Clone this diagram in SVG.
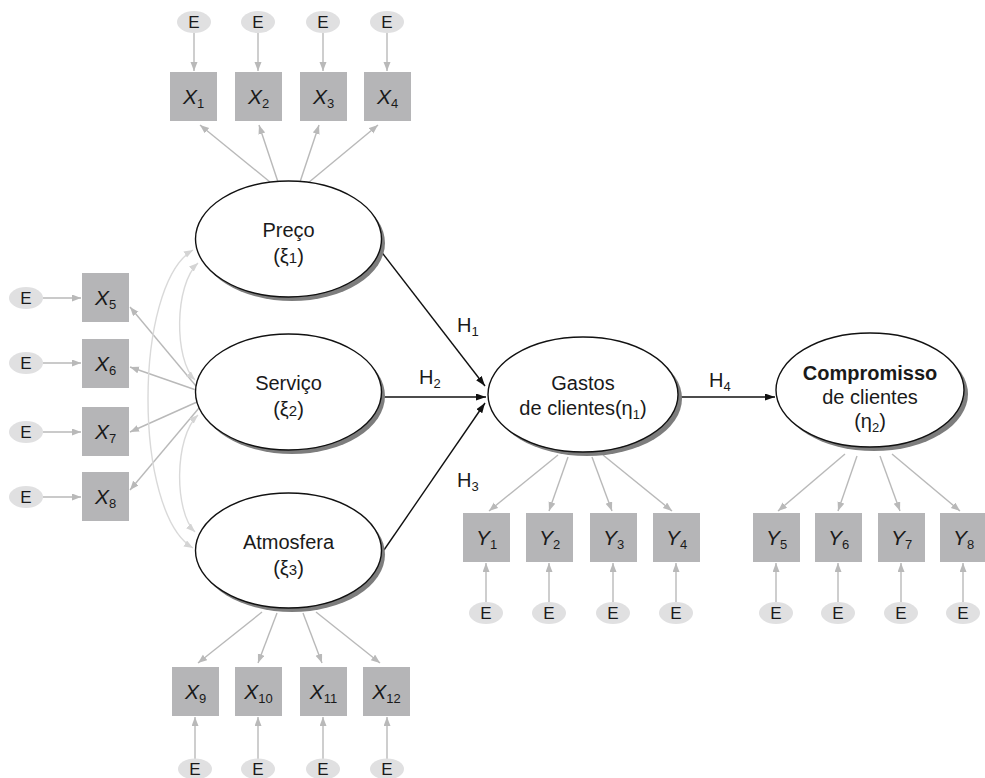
<svg xmlns="http://www.w3.org/2000/svg" width="985" height="778" viewBox="0 0 985 778">
<style>
text{font-family:"Liberation Sans",Arial,sans-serif;fill:#1a1a1a}
.box{fill:#b5b5b7}
.err{fill:#e0e0e1}
.et{font-size:17px;text-anchor:middle}
.xl{font-size:21px;text-anchor:middle}
.xl .v{font-style:italic}
.sub{font-size:13px}
.lat{fill:#fff;stroke:#111;stroke-width:1.4}
.sh{fill:#7d7d7d}
.lt{font-size:20px;text-anchor:middle}
.hl{font-size:20px}
.ld{stroke:#b9b9b9;stroke-width:1.4;fill:none;marker-end:url(#ga)}
.cv{stroke:#d9d9d9;stroke-width:1.4;fill:none;marker-end:url(#la);marker-start:url(#lb)}
.hp{stroke:#111;stroke-width:1.4;fill:none;marker-end:url(#ba)}
</style>
<defs>
<marker id="ga" markerUnits="userSpaceOnUse" markerWidth="10" markerHeight="8" refX="9" refY="3.5" orient="auto"><path d="M0,0 L9,3.5 L0,7 z" fill="#b9b9b9"/></marker>
<marker id="la" markerUnits="userSpaceOnUse" markerWidth="10" markerHeight="8" refX="9" refY="3.5" orient="auto"><path d="M0,0 L9,3.5 L0,7 z" fill="#d4d4d4"/></marker>
<marker id="lb" markerUnits="userSpaceOnUse" markerWidth="10" markerHeight="8" refX="9" refY="3.5" orient="auto-start-reverse"><path d="M0,0 L9,3.5 L0,7 z" fill="#d4d4d4"/></marker>
<marker id="ba" markerUnits="userSpaceOnUse" markerWidth="11" markerHeight="8" refX="10" refY="3.5" orient="auto"><path d="M0,0 L10,3.5 L0,7 z" fill="#111"/></marker>
</defs>

<g id="connectors">
<line class="ld" x1="194" y1="33" x2="194" y2="71"/>
<line class="ld" x1="258" y1="33" x2="258" y2="71"/>
<line class="ld" x1="323" y1="33" x2="323" y2="71"/>
<line class="ld" x1="387" y1="33" x2="387" y2="71"/>
<line class="ld" x1="43" y1="298" x2="81" y2="298"/>
<line class="ld" x1="43" y1="363" x2="81" y2="363"/>
<line class="ld" x1="43" y1="432" x2="81" y2="432"/>
<line class="ld" x1="43" y1="497" x2="81" y2="497"/>
<line class="ld" x1="195" y1="759" x2="195" y2="717"/>
<line class="ld" x1="258" y1="759" x2="258" y2="717"/>
<line class="ld" x1="323" y1="759" x2="323" y2="717"/>
<line class="ld" x1="387" y1="759" x2="387" y2="717"/>
<line class="ld" x1="486" y1="602" x2="486" y2="563"/>
<line class="ld" x1="549" y1="602" x2="549" y2="563"/>
<line class="ld" x1="613" y1="602" x2="613" y2="563"/>
<line class="ld" x1="676" y1="602" x2="676" y2="563"/>
<line class="ld" x1="776" y1="602" x2="776" y2="563"/>
<line class="ld" x1="838" y1="602" x2="838" y2="563"/>
<line class="ld" x1="901" y1="602" x2="901" y2="563"/>
<line class="ld" x1="963" y1="602" x2="963" y2="563"/>
<line class="ld" x1="270" y1="182" x2="200" y2="125"/>
<line class="ld" x1="278" y1="182" x2="259" y2="125"/>
<line class="ld" x1="300" y1="182" x2="319" y2="125"/>
<line class="ld" x1="308" y1="183" x2="378" y2="125"/>
<line class="ld" x1="196" y1="386" x2="130" y2="307"/>
<line class="ld" x1="196" y1="390" x2="130" y2="367"/>
<line class="ld" x1="197" y1="402" x2="130" y2="432"/>
<line class="ld" x1="199" y1="408" x2="130" y2="490"/>
<line class="ld" x1="262" y1="612" x2="198" y2="663"/>
<line class="ld" x1="277" y1="613" x2="258" y2="663"/>
<line class="ld" x1="303" y1="613" x2="322" y2="663"/>
<line class="ld" x1="316" y1="612" x2="380" y2="663"/>
<line class="ld" x1="558" y1="455" x2="489" y2="511"/>
<line class="ld" x1="568" y1="457" x2="549" y2="511"/>
<line class="ld" x1="592" y1="457" x2="612" y2="511"/>
<line class="ld" x1="603" y1="455" x2="672" y2="511"/>
<line class="ld" x1="845" y1="454" x2="778" y2="511"/>
<line class="ld" x1="857" y1="456" x2="838" y2="511"/>
<line class="ld" x1="880" y1="456" x2="900" y2="511"/>
<line class="ld" x1="892" y1="454" x2="960" y2="511"/>
<path class="cv" d="M193,250 C133,285 133,513 193,548"/>
<path class="cv" d="M198,263 C174,285 174,360 195,380"/>
<path class="cv" d="M198,415 C174,437 174,512 195,532"/>
<line class="hp" x1="380" y1="250" x2="485" y2="386"/>
<line class="hp" x1="383" y1="397" x2="486" y2="397"/>
<line class="hp" x1="384" y1="550" x2="485" y2="403"/>
<line class="hp" x1="680" y1="397" x2="775" y2="397"/>
<text class="hl" x="457" y="332">H<tspan class="sub" dy="4">1</tspan></text>
<text class="hl" x="419" y="384">H<tspan class="sub" dy="4">2</tspan></text>
<text class="hl" x="457" y="487">H<tspan class="sub" dy="4">3</tspan></text>
<text class="hl" x="709" y="387">H<tspan class="sub" dy="4">4</tspan></text>
</g>

<g id="e1"><ellipse class="err" cx="194" cy="22" rx="17" ry="11"/><text class="et" x="194" y="28">E</text></g>
<g id="e2"><ellipse class="err" cx="258" cy="22" rx="17" ry="11"/><text class="et" x="258" y="28">E</text></g>
<g id="e3"><ellipse class="err" cx="323" cy="22" rx="17" ry="11"/><text class="et" x="323" y="28">E</text></g>
<g id="e4"><ellipse class="err" cx="387" cy="22" rx="17" ry="11"/><text class="et" x="387" y="28">E</text></g>
<g id="x1"><rect class="box" x="170" y="72" width="47" height="49"/><text class="xl" x="193.5" y="104"><tspan class="v">X</tspan><tspan class="sub" dy="4">1</tspan></text></g>
<g id="x2"><rect class="box" x="235" y="72" width="47" height="49"/><text class="xl" x="258.5" y="104"><tspan class="v">X</tspan><tspan class="sub" dy="4">2</tspan></text></g>
<g id="x3"><rect class="box" x="300" y="72" width="47" height="49"/><text class="xl" x="323.5" y="104"><tspan class="v">X</tspan><tspan class="sub" dy="4">3</tspan></text></g>
<g id="x4"><rect class="box" x="364" y="72" width="47" height="49"/><text class="xl" x="387.5" y="104"><tspan class="v">X</tspan><tspan class="sub" dy="4">4</tspan></text></g>

<g id="e5"><ellipse class="err" cx="26" cy="298" rx="17" ry="11"/><text class="et" x="26" y="304">E</text></g>
<g id="e6"><ellipse class="err" cx="26" cy="363" rx="17" ry="11"/><text class="et" x="26" y="369">E</text></g>
<g id="e7"><ellipse class="err" cx="26" cy="432" rx="17" ry="11"/><text class="et" x="26" y="438">E</text></g>
<g id="e8"><ellipse class="err" cx="26" cy="497" rx="17" ry="11"/><text class="et" x="26" y="503">E</text></g>
<g id="x5"><rect class="box" x="82" y="273" width="47" height="49"/><text class="xl" x="105.5" y="305"><tspan class="v">X</tspan><tspan class="sub" dy="4">5</tspan></text></g>
<g id="x6"><rect class="box" x="82" y="339" width="47" height="49"/><text class="xl" x="105.5" y="371"><tspan class="v">X</tspan><tspan class="sub" dy="4">6</tspan></text></g>
<g id="x7"><rect class="box" x="82" y="407" width="47" height="49"/><text class="xl" x="105.5" y="439"><tspan class="v">X</tspan><tspan class="sub" dy="4">7</tspan></text></g>
<g id="x8"><rect class="box" x="82" y="472" width="47" height="49"/><text class="xl" x="105.5" y="504"><tspan class="v">X</tspan><tspan class="sub" dy="4">8</tspan></text></g>

<g id="x9"><rect class="box" x="172" y="667" width="47" height="49"/><text class="xl" x="195.5" y="699"><tspan class="v">X</tspan><tspan class="sub" dy="4">9</tspan></text></g>
<g id="x10"><rect class="box" x="235" y="667" width="47" height="49"/><text class="xl" x="258.5" y="699"><tspan class="v">X</tspan><tspan class="sub" dy="4">10</tspan></text></g>
<g id="x11"><rect class="box" x="300" y="667" width="47" height="49"/><text class="xl" x="323.5" y="699"><tspan class="v">X</tspan><tspan class="sub" dy="4">11</tspan></text></g>
<g id="x12"><rect class="box" x="363" y="667" width="47" height="49"/><text class="xl" x="386.5" y="699"><tspan class="v">X</tspan><tspan class="sub" dy="4">12</tspan></text></g>
<g id="e9"><ellipse class="err" cx="195" cy="769" rx="17" ry="10.5"/><text class="et" x="195" y="775">E</text></g>
<g id="e10"><ellipse class="err" cx="258" cy="769" rx="17" ry="10.5"/><text class="et" x="258" y="775">E</text></g>
<g id="e11"><ellipse class="err" cx="323" cy="769" rx="17" ry="10.5"/><text class="et" x="323" y="775">E</text></g>
<g id="e12"><ellipse class="err" cx="387" cy="769" rx="17" ry="10.5"/><text class="et" x="387" y="775">E</text></g>

<g id="y1"><rect class="box" x="463" y="513" width="47" height="49"/><text class="xl" x="486.5" y="545"><tspan class="v">Y</tspan><tspan class="sub" dy="4">1</tspan></text></g>
<g id="y2"><rect class="box" x="526" y="513" width="47" height="49"/><text class="xl" x="549.5" y="545"><tspan class="v">Y</tspan><tspan class="sub" dy="4">2</tspan></text></g>
<g id="y3"><rect class="box" x="590" y="513" width="47" height="49"/><text class="xl" x="613.5" y="545"><tspan class="v">Y</tspan><tspan class="sub" dy="4">3</tspan></text></g>
<g id="y4"><rect class="box" x="653" y="513" width="47" height="49"/><text class="xl" x="676.5" y="545"><tspan class="v">Y</tspan><tspan class="sub" dy="4">4</tspan></text></g>
<g id="y5"><rect class="box" x="753" y="513" width="47" height="49"/><text class="xl" x="776.5" y="545"><tspan class="v">Y</tspan><tspan class="sub" dy="4">5</tspan></text></g>
<g id="y6"><rect class="box" x="815" y="513" width="47" height="49"/><text class="xl" x="838.5" y="545"><tspan class="v">Y</tspan><tspan class="sub" dy="4">6</tspan></text></g>
<g id="y7"><rect class="box" x="878" y="513" width="47" height="49"/><text class="xl" x="901.5" y="545"><tspan class="v">Y</tspan><tspan class="sub" dy="4">7</tspan></text></g>
<g id="y8"><rect class="box" x="940" y="513" width="47" height="49"/><text class="xl" x="963.5" y="545"><tspan class="v">Y</tspan><tspan class="sub" dy="4">8</tspan></text></g>
<g id="ey1"><ellipse class="err" cx="486" cy="613" rx="17" ry="11"/><text class="et" x="486" y="619">E</text></g>
<g id="ey2"><ellipse class="err" cx="549" cy="613" rx="17" ry="11"/><text class="et" x="549" y="619">E</text></g>
<g id="ey3"><ellipse class="err" cx="613" cy="613" rx="17" ry="11"/><text class="et" x="613" y="619">E</text></g>
<g id="ey4"><ellipse class="err" cx="676" cy="613" rx="17" ry="11"/><text class="et" x="676" y="619">E</text></g>
<g id="ey5"><ellipse class="err" cx="776" cy="613" rx="17" ry="11"/><text class="et" x="776" y="619">E</text></g>
<g id="ey6"><ellipse class="err" cx="838" cy="613" rx="17" ry="11"/><text class="et" x="838" y="619">E</text></g>
<g id="ey7"><ellipse class="err" cx="901" cy="613" rx="17" ry="11"/><text class="et" x="901" y="619">E</text></g>
<g id="ey8"><ellipse class="err" cx="963" cy="613" rx="17" ry="11"/><text class="et" x="963" y="619">E</text></g>

<g id="preco"><ellipse class="sh" cx="292" cy="243" rx="93" ry="58"/><ellipse class="lat" cx="288.5" cy="239" rx="93" ry="58"/>
<text class="lt" x="288.5" y="237">Preço</text><text class="lt" x="288.5" y="263">(ξ<tspan font-size="15">1</tspan>)</text></g>
<g id="servico"><ellipse class="sh" cx="292" cy="396" rx="93" ry="58"/><ellipse class="lat" cx="288.5" cy="392" rx="93" ry="58"/>
<text class="lt" x="288.5" y="390">Serviço</text><text class="lt" x="288.5" y="416">(ξ<tspan font-size="15">2</tspan>)</text></g>
<g id="atmosfera"><ellipse class="sh" cx="292" cy="554.5" rx="93" ry="57.5"/><ellipse class="lat" cx="288.5" cy="550.5" rx="93" ry="57.5"/>
<text class="lt" x="288.5" y="548.5">Atmosfera</text><text class="lt" x="288.5" y="574.5">(ξ<tspan font-size="15">3</tspan>)</text></g>
<g id="gastos"><ellipse class="sh" cx="587" cy="398.5" rx="95" ry="57.5"/><ellipse class="lat" cx="583" cy="394.5" rx="95" ry="57.5"/>
<text class="lt" x="583" y="390">Gastos</text><text class="lt" x="583" y="415">de clientes(η<tspan class="sub" dy="4">1</tspan><tspan dy="-4">)</tspan></text></g>
<g id="compromisso"><ellipse class="sh" cx="874" cy="394" rx="94" ry="57"/><ellipse class="lat" cx="870" cy="390" rx="94" ry="57"/>
<text class="lt" x="870" y="380" font-weight="bold">Compromisso</text><text class="lt" x="870" y="404">de clientes</text><text class="lt" x="870" y="428">(η<tspan class="sub" dy="4">2</tspan><tspan dy="-4">)</tspan></text></g>
</svg>
